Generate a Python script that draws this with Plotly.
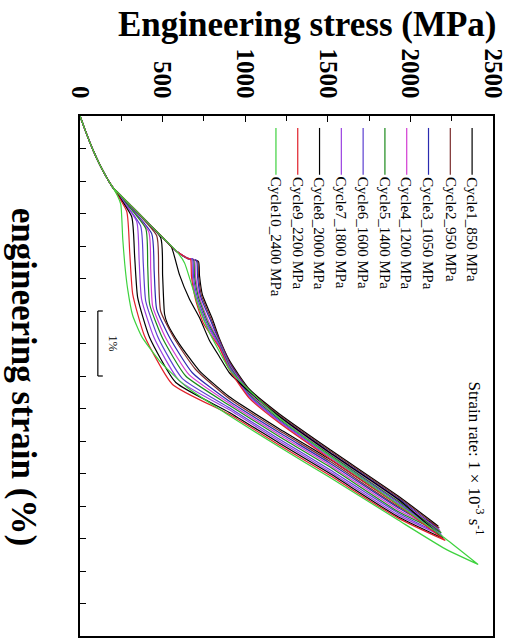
import plotly.graph_objects as go

# Shared elastic (austenite) branch from the origin, stress in MPa, strain in %
ELASTIC_S = [0, 30, 78, 120, 169, 199]
ELASTIC_E = [0.0, 0.21, 0.52, 0.75, 0.98, 1.10]

CYCLES = ["Cycle1_850 MPa", "Cycle2_950 MPa", "Cycle3_1050 MPa", "Cycle4_1200 MPa",
          "Cycle5_1400 MPa", "Cycle6_1600 MPa", "Cycle7_1800 MPa", "Cycle8_2000 MPa",
          "Cycle9_2200 MPa", "Cycle10_2400 MPa"]
COLORS = ["#000000", "#7b2d2d", "#2b2bb0", "#d23cd2", "#1a8a1a",
          "#5b3fd0", "#9a40e0", "#000000", "#e0202a", "#3ed23e"]

# Loading branch after the elastic part: forward transformation + hardening
LOAD_S = [
    [301, 422, 512, 584, 651, 717, 723, 741, 801, 843, 904, 1024, 1205, 1506, 1928, 2169],
    [301, 422, 512, 584, 651, 711, 717, 735, 795, 843, 904, 1024, 1205, 1506, 1928, 2175],
    [301, 422, 512, 584, 651, 705, 711, 729, 789, 843, 904, 1024, 1205, 1506, 1928, 2175],
    [301, 422, 512, 584, 651, 693, 699, 723, 777, 843, 904, 1024, 1205, 1506, 1928, 2181],
    [301, 422, 512, 584, 651, 687, 693, 717, 771, 843, 904, 1024, 1205, 1506, 1928, 2187],
    [301, 422, 512, 584, 651, 681, 687, 711, 765, 843, 904, 1024, 1205, 1506, 1928, 2187],
    [301, 422, 512, 584, 651, 675, 681, 705, 759, 843, 904, 1024, 1205, 1506, 1928, 2193],
    [301, 422, 512, 554, 602, 663, 723, 783, 843, 904, 1024, 1205, 1506, 1928, 2199],
    [301, 422, 512, 584, 651, 669, 675, 699, 747, 843, 904, 1024, 1205, 1506, 1928, 2211],
    [301, 422, 512, 584, 633, 675, 723, 783, 843, 904, 1024, 1205, 1506, 1928, 2211, 2410],
]
LOAD_E = [
    [1.36, 1.67, 1.90, 2.08, 2.19, 2.24, 2.45, 2.75, 3.12, 3.42, 3.76, 4.20, 4.58, 5.12, 5.85, 6.31],
    [1.36, 1.67, 1.90, 2.08, 2.19, 2.23, 2.45, 2.76, 3.13, 3.44, 3.78, 4.22, 4.60, 5.14, 5.87, 6.34],
    [1.36, 1.67, 1.90, 2.08, 2.19, 2.22, 2.46, 2.77, 3.14, 3.46, 3.80, 4.24, 4.62, 5.16, 5.89, 6.37],
    [1.36, 1.67, 1.90, 2.08, 2.19, 2.21, 2.46, 2.78, 3.15, 3.48, 3.82, 4.26, 4.64, 5.18, 5.91, 6.39],
    [1.36, 1.67, 1.90, 2.08, 2.19, 2.21, 2.47, 2.79, 3.16, 3.50, 3.84, 4.28, 4.66, 5.20, 5.93, 6.41],
    [1.36, 1.67, 1.90, 2.08, 2.19, 2.20, 2.47, 2.80, 3.17, 3.52, 3.86, 4.30, 4.68, 5.22, 5.95, 6.44],
    [1.36, 1.67, 1.90, 2.08, 2.19, 2.20, 2.48, 2.81, 3.18, 3.54, 3.88, 4.32, 4.70, 5.24, 5.97, 6.46],
    [1.36, 1.67, 1.90, 2.02, 2.44, 2.82, 3.10, 3.45, 3.70, 3.95, 4.24, 4.62, 5.17, 5.90, 6.50],
    [1.36, 1.67, 1.90, 2.08, 2.19, 2.20, 2.48, 2.82, 3.19, 3.56, 3.90, 4.34, 4.72, 5.26, 5.99, 6.53],
    [1.36, 1.67, 1.90, 2.08, 2.26, 2.59, 2.97, 3.33, 3.62, 3.90, 4.22, 4.64, 5.22, 5.98, 6.50, 6.90],
]

# Unloading branch from peak stress down through reverse transformation
UNLOAD_S = [
    [2169, 1928, 1506, 1205, 904, 723, 602, 530, 512, 500, 488],
    [2175, 1928, 1506, 1205, 904, 700, 570, 488, 476, 464],
    [2175, 1928, 1506, 1205, 904, 680, 545, 464, 449, 434],
    [2181, 1928, 1506, 1205, 904, 660, 520, 440, 428, 416],
    [2187, 1928, 1506, 1205, 904, 640, 500, 422, 410, 398],
    [2187, 1928, 1506, 1205, 904, 620, 475, 398, 383, 367],
    [2193, 1928, 1506, 1205, 904, 600, 450, 373, 358, 343],
    [2199, 1928, 1506, 1205, 904, 580, 420, 349, 331, 313],
    [2211, 1928, 1506, 1205, 904, 560, 390, 319, 301, 283],
    [2410, 2211, 1928, 1506, 1205, 886, 645, 482, 373, 319, 289, 271, 259, 247, 229],
]
UNLOAD_E = [
    [6.31, 5.98, 5.27, 4.81, 4.32, 3.92, 3.51, 3.20, 3.05, 2.45, 1.87],
    [6.34, 6.01, 5.30, 4.84, 4.35, 3.90, 3.42, 3.00, 2.42, 1.84],
    [6.37, 6.03, 5.33, 4.87, 4.39, 3.95, 3.42, 2.97, 2.39, 1.81],
    [6.39, 6.06, 5.36, 4.90, 4.42, 3.98, 3.42, 2.93, 2.36, 1.78],
    [6.41, 6.09, 5.39, 4.93, 4.45, 4.00, 3.42, 2.90, 2.32, 1.73],
    [6.44, 6.11, 5.43, 4.97, 4.49, 4.04, 3.42, 2.85, 2.27, 1.69],
    [6.46, 6.14, 5.46, 5.00, 4.52, 4.07, 3.42, 2.82, 2.22, 1.62],
    [6.50, 6.17, 5.49, 5.03, 4.56, 4.10, 3.40, 2.79, 2.17, 1.55],
    [6.53, 6.19, 5.52, 5.06, 4.59, 4.13, 3.38, 2.74, 2.10, 1.47],
    [6.90, 6.66, 6.22, 5.55, 5.09, 4.58, 4.17, 3.77, 3.39, 3.07, 2.67, 2.28, 1.90, 1.36, 1.24],
]

STRESS_TICKS = [0, 500, 1000, 1500, 2000, 2500]
STRESS_MINOR = [250, 750, 1250, 1750, 2250]
SERIF = "Liberation Serif"

fig = go.Figure()
for i, name in enumerate(CYCLES):
    xs = ELASTIC_S + LOAD_S[i] + UNLOAD_S[i] + ELASTIC_S[::-1]
    ys = ELASTIC_E + LOAD_E[i] + UNLOAD_E[i] + ELASTIC_E[::-1]
    fig.add_trace(go.Scatter(
        x=xs, y=ys, mode="lines", name=name,
        line=dict(color=COLORS[i], width=1.2, shape="spline", smoothing=0.5),
        showlegend=False,
    ))

fig.update_xaxes(
    side="top", range=[0, 2500],
    tickvals=STRESS_TICKS, ticktext=[str(v) for v in STRESS_TICKS],
    ticks="inside", ticklen=6, tickwidth=1.2, tickcolor="black",
    minor=dict(tickvals=STRESS_MINOR, ticks="inside", ticklen=5, tickcolor="black"),
    tickangle=90, ticklabelstandoff=7,
    tickfont=dict(family=SERIF, size=25, color="black", weight="bold"),
    showline=True, linecolor="black", linewidth=1.5, mirror=True,
    showgrid=False, zeroline=False,
)
fig.update_yaxes(
    range=[8, 0], tick0=0, dtick=0.5,
    ticks="inside", ticklen=6, tickwidth=1.2, tickcolor="black",
    showticklabels=False,
    showline=True, linecolor="black", linewidth=1.5, mirror=True,
    showgrid=False, zeroline=False,
)

annotations = [
    dict(text="Engineering stress (MPa)", xref="paper", yref="paper", x=0.549, y=1.176,
         showarrow=False, xanchor="center", yanchor="middle",
         font=dict(family=SERIF, size=35, color="black", weight="bold")),
    dict(text="engineering strain (%)", xref="paper", yref="paper", x=-0.135, y=0.498,
         showarrow=False, textangle=90, xanchor="center", yanchor="middle",
         font=dict(family=SERIF, size=35, color="black", weight="bold")),
    dict(text="Strain rate: 1 \u00d7 10<sup>-3</sup> s<sup>-1</sup>", xref="paper", yref="paper",
         x=0.959, y=0.341, showarrow=False, textangle=90, xanchor="center", yanchor="middle",
         font=dict(family=SERIF, size=17, color="black")),
    dict(text="1%", xref="x", yref="y", x=200, y=3.5, showarrow=False, textangle=90,
         xanchor="center", yanchor="middle", font=dict(family=SERIF, size=12, color="black")),
]

shapes = [
    # 1 % strain scale bar
    dict(type="line", xref="x", yref="y", x0=108, x1=108, y0=3.0, y1=4.0,
         line=dict(color="black", width=1.2)),
    dict(type="line", xref="x", yref="y", x0=108, x1=138, y0=3.0, y1=3.0,
         line=dict(color="black", width=1.2)),
    dict(type="line", xref="x", yref="y", x0=108, x1=138, y0=4.0, y1=4.0,
         line=dict(color="black", width=1.2)),
]

# Rotated legend: short vertical line + label per cycle
plot_left, plot_w = 80, 415
plot_bottom, plot_h = 638, 522
for i, name in enumerate(CYCLES):
    cx = 474 - 21.9 * i
    xp = (cx - plot_left) / plot_w
    shapes.append(dict(type="line", xref="paper", yref="paper", x0=xp, x1=xp,
                       y0=(plot_bottom - 128) / plot_h, y1=(plot_bottom - 175) / plot_h,
                       line=dict(color=COLORS[i], width=1.2)))
    annotations.append(dict(text=name, xref="paper", yref="paper", x=xp,
                            y=(plot_bottom - 175) / plot_h, showarrow=False, textangle=90,
                            xanchor="center", yanchor="top",
                            font=dict(family=SERIF, size=15, color="black")))

fig.update_layout(
    width=510, height=641,
    margin=dict(l=80, r=15, t=116, b=3),
    plot_bgcolor="white", paper_bgcolor="white",
    showlegend=False,
    annotations=annotations, shapes=shapes,
)

fig.write_html("out.html")
